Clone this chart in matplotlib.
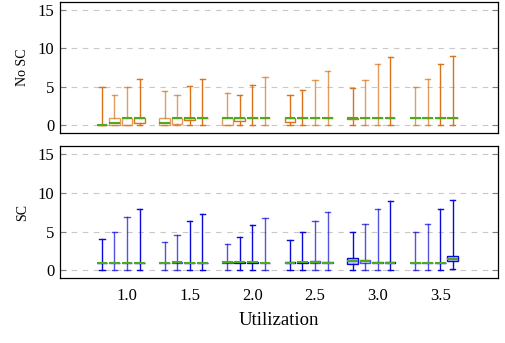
import matplotlib.pyplot as plt
import numpy as np

plt.rcParams['font.family'] = ['Liberation Serif', 'DejaVu Serif']

utilization = [1.0, 1.5, 2.0, 2.5, 3.0, 3.5]
offsets = [-0.2, -0.1, 0.0, 0.1]

# No SC: per group, four boxes (lo, q1, med, q3, hi)
nosc_hi = [[5.0, 4.0, 5.0, 6.0], [4.5, 4.0, 5.1, 6.0], [4.2, 3.9, 5.2, 6.25],
           [4.0, 4.65, 5.85, 7.1], [4.9, 5.95, 8.0, 8.9], [5.0, 6.0, 8.0, 9.0]]
nosc_q1 = [[0.0, 0.0, 0.0, 0.35], [0.0, 0.2, 0.7, 1.0], [0.1, 0.6, 1.0, 1.0],
           [0.4, 1.0, 1.0, 1.0], [0.8, 0.95, 1.0, 1.0], [1.0, 1.0, 1.0, 1.0]]
nosc_med = [[0.1, 0.25, 1.0, 1.0], [0.3, 1.0, 1.0, 1.0], [0.9, 1.0, 1.0, 1.0],
            [1.0, 1.0, 1.0, 1.0], [1.0, 1.0, 1.0, 1.0], [1.0, 1.0, 1.0, 1.0]]
nosc_q3 = [[0.1, 1.0, 1.0, 1.0], [0.9, 1.0, 1.0, 1.0], [1.0, 1.0, 1.0, 1.0],
           [1.0, 1.0, 1.0, 1.0], [1.0, 1.0, 1.0, 1.0], [1.0, 1.0, 1.0, 1.0]]
nosc_lo = [[0.0] * 4 for _ in range(6)]

# SC
sc_hi = [[4.0, 5.0, 6.9, 7.9], [3.6, 4.6, 6.4, 7.3], [3.4, 4.3, 5.9, 6.8],
         [3.85, 5.0, 6.3, 7.5], [5.0, 6.0, 7.9, 8.9], [5.0, 6.0, 7.9, 9.0]]
sc_q1 = [[1.0, 1.0, 1.0, 1.0], [1.0, 1.0, 1.0, 1.0], [1.0, 1.0, 1.0, 1.0],
         [1.0, 1.0, 1.0, 1.0], [0.85, 1.0, 1.0, 1.0], [1.0, 1.0, 1.0, 1.2]]
sc_med = [[1.0, 1.0, 1.0, 1.0], [1.0, 1.05, 1.0, 1.0], [1.05, 1.05, 1.05, 1.0],
          [1.0, 1.05, 1.05, 1.0], [1.2, 1.15, 1.0, 1.0], [1.0, 1.0, 1.0, 1.5]]
sc_q3 = [[1.0, 1.0, 1.0, 1.0], [1.0, 1.1, 1.0, 1.0], [1.1, 1.1, 1.1, 1.0],
         [1.05, 1.1, 1.15, 1.05], [1.55, 1.4, 1.05, 1.05], [1.0, 1.0, 1.0, 1.8]]
sc_lo = [[0.0, 0.0, 0.0, 0.0], [0.0, 0.0, 0.0, 0.0], [0.0, 0.0, 0.0, 0.0],
         [0.0, 0.0, 0.0, 0.0], [0.0, 0.0, 0.0, 0.0], [0.0, 0.0, 0.0, 0.2]]

ORANGE = '#d9731a'
BLUE = '#0a0ad8'
GREEN = '#4caa1c'
alphas = [1.0, 0.7, 0.7, 1.0]


def draw(ax, lo, q1, med, q3, hi, color, face):
    for g, u in enumerate(utilization):
        for k, off in enumerate(offsets):
            st = dict(whislo=lo[g][k], q1=q1[g][k], med=med[g][k],
                      q3=q3[g][k], whishi=hi[g][k], fliers=[])
            a = alphas[(k + g) % 4]
            ax.bxp([st], positions=[u + off], widths=0.085, showfliers=False,
                   patch_artist=True,
                   boxprops=dict(edgecolor=color, facecolor=face, lw=1.0, alpha=a),
                   whiskerprops=dict(color=color, lw=1.0, alpha=a),
                   capprops=dict(color=color, lw=1.0, alpha=a),
                   medianprops=dict(color=GREEN, lw=1.5))


fig = plt.figure(figsize=(5.05, 3.43), dpi=100)
ax1 = fig.add_axes([0.119, 0.612, 0.867, 0.382])
ax2 = fig.add_axes([0.119, 0.189, 0.867, 0.385])

draw(ax1, nosc_lo, nosc_q1, nosc_med, nosc_q3, nosc_hi, ORANGE, 'white')
draw(ax2, sc_lo, sc_q1, sc_med, sc_q3, sc_hi, BLUE, '#c4c4f6')

for ax, lab in [(ax1, 'No SC'), (ax2, 'SC')]:
    ax.set_xlim(0.466, 3.96)
    ax.set_ylim(-1.0, 16.0)
    ax.set_yticks([0, 5, 10, 15])
    ax.grid(axis='y', color='#c8c8c8', ls=(0, (5, 5)), lw=0.8)
    ax.set_axisbelow(True)
    ax.tick_params(axis='y', direction='in', right=True, length=4,
                   color='#808080', labelsize=12, pad=4)
    ax.set_ylabel(lab, fontsize=10, labelpad=6)
    for s in ax.spines.values():
        s.set_linewidth(0.9)

ax1.set_xticks([])
ax2.set_xticks(utilization)
ax2.set_xticklabels([f'{u:.1f}' for u in utilization])
ax2.tick_params(axis='x', length=0, labelsize=12, pad=7)
ax2.set_xlabel('Utilization', fontsize=13.5, labelpad=6)

fig.savefig('out.png', dpi=100)
